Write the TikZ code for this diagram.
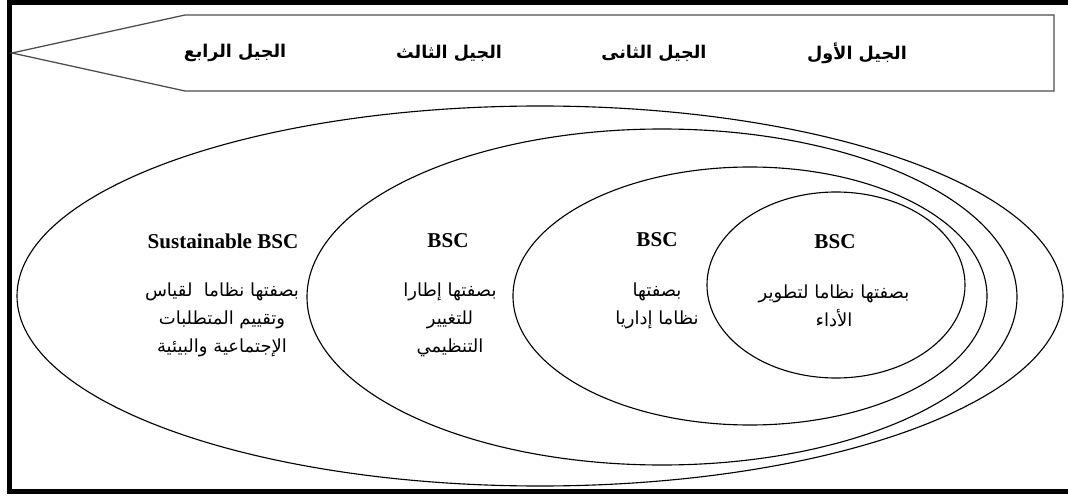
\documentclass[tikz,border=0pt]{standalone}
\usepackage{fontspec}
\setmainfont{Liberation Serif}
\newfontfamily\arabicfont[Script=Arabic]{DejaVu Sans}
\TeXXeTstate=1
\newcommand{\artxt}[1]{\beginR#1\endR}
\begin{document}
\begin{tikzpicture}
                        [x=0.025cm, y=-0.025cm,
                        gen/.style={font=\arabicfont\bfseries\fontsize{12.5}{14}\selectfont},
                        ttl/.style={font=\bfseries\fontsize{15}{18}\selectfont},
                        desc/.style={font=\arabicfont\fontsize{12.8}{19.9}\selectfont, align=center},
                        ell/.style={line width=0.8pt}]
                        \useasboundingbox (0,0) rectangle (1068,499);
                        \clip (0,0) rectangle (1068,499);
                        %Rahmen
                        \draw [line width=3.6pt] (9.5,2.5) rectangle (1080,491.5);
                        %Pfeil
                        \draw [line width=0.9pt, black!70] (12,53) -- (185,15) -- (1054,15) -- (1054,91) -- (185,91) -- cycle;
                        \node [gen] (Gen4) at (235,53) {\artxt{الجيل الرابع}};
                        \node [gen] (Gen3) at (449,53) {\artxt{الجيل الثالث}};
                        \node [gen] (Gen2) at (654,53) {\artxt{الجيل الثانى}};
                        \node [gen] (Gen1) at (857,53) {\artxt{الجيل الأول}};
                        %Ellipsen
                        \draw [ell] (540,296) ellipse [x radius=523, y radius=190];
                        \draw [ell] (662,297) ellipse [x radius=355, y radius=168];
                        \draw [ell] (750,296) ellipse [x radius=237, y radius=129];
                        \draw [ell] (836,285) ellipse [x radius=129, y radius=93];
                        %Texte
                        \node [ttl] (Bsc4) at (223,241) {Sustainable BSC};
                        \node [ttl] (Bsc3) at (448,241) {BSC};
                        \node [ttl] (Bsc2) at (657,240) {BSC};
                        \node [ttl] (Bsc1) at (835,242) {BSC};
                        \node [desc] (Txt4) at (222,320) {\artxt{بصفتها نظاما\ \ لقياس}\\\artxt{وتقييم المتطلبات}\\\artxt{الإجتماعية والبيئية}};
                        \node [desc] (Txt3) at (450,320) {\artxt{بصفتها إطارا}\\\artxt{للتغيير}\\\artxt{التنظيمي}};
                        \node [desc] (Txt2) at (657,306) {\artxt{بصفتها}\\\artxt{نظاما إداريا}};
                        \node [desc] (Txt1) at (834,306) {\artxt{بصفتها نظاما لتطوير}\\\artxt{الأداء}};
                \end{tikzpicture}
\end{document}
